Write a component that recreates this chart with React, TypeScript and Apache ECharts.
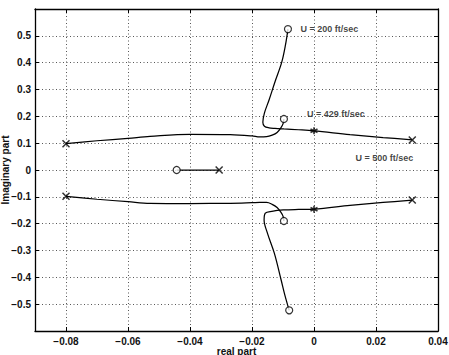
import React, { useEffect, useRef } from "react";
import * as echarts from "echarts";

// Root-locus branches, [real, imag]
const upperBranchA: number[][] = [
  [-0.0084, 0.525], [-0.0092, 0.466], [-0.0104, 0.402], [-0.0126, 0.328],
  [-0.0145, 0.261], [-0.016, 0.212], [-0.0165, 0.178], [-0.016, 0.163],
  [-0.0145, 0.157], [-0.0126, 0.155], [-0.0097, 0.153], [-0.005, 0.150],
  [0, 0.146], [0.0116, 0.132], [0.0223, 0.121], [0.0317, 0.112],
];
const upperBranchB: number[][] = [
  [-0.0097, 0.19], [-0.01, 0.172], [-0.0107, 0.157], [-0.0119, 0.14],
  [-0.0135, 0.130], [-0.0153, 0.124], [-0.0175, 0.123], [-0.02, 0.127],
  [-0.027, 0.132], [-0.04, 0.133], [-0.0529, 0.125], [-0.06, 0.118],
  [-0.07, 0.109], [-0.08, 0.098],
];
const lowerBranchA: number[][] = [
  [-0.008, -0.523], [-0.0094, -0.466], [-0.0106, -0.41], [-0.0128, -0.31],
  [-0.015, -0.236], [-0.0161, -0.186], [-0.0157, -0.161], [-0.0136, -0.154],
  [-0.0099, -0.149], [-0.005, -0.147], [0, -0.146], [0.0116, -0.132],
  [0.0223, -0.121], [0.0317, -0.112],
];
const lowerBranchB: number[][] = [
  [-0.0097, -0.19], [-0.01, -0.172], [-0.0107, -0.157], [-0.0119, -0.14],
  [-0.0135, -0.128], [-0.0153, -0.121], [-0.0175, -0.121], [-0.02, -0.122],
  [-0.027, -0.124], [-0.04, -0.125], [-0.0529, -0.124], [-0.06, -0.118],
  [-0.07, -0.109], [-0.08, -0.098],
];
const realSegment: number[][] = [[-0.0443, 0], [-0.0306, 0]];

// Markers
const circlePoints: number[][] = [
  [-0.0084, 0.525], [-0.0097, 0.19], [-0.0443, 0], [-0.0097, -0.19], [-0.008, -0.523],
];
const crossPoints: number[][] = [
  [0.0317, 0.112], [-0.08, 0.098], [-0.0306, 0], [0.0317, -0.112], [-0.08, -0.098],
];
const starPoints: number[][] = [[0, 0.146], [0, -0.146]];

// Annotations
const annotationTexts = ["U = 200 ft/sec", "U = 429 ft/sec", "U = 500 ft/sec"];
const annotationAnchors: number[][] = [[-0.0045, 0.527], [-0.0024, 0.209], [0.0132, 0.044]];

// Axis ticks
const xTicks = [-0.08, -0.06, -0.04, -0.02, 0, 0.02, 0.04];
const xMin = -0.09, xMax = 0.04;
const yMin = -0.6, yMax = 0.6, yStep = 0.1;

const FONT = "Liberation Sans, Arial, Helvetica, sans-serif";
const fmtNum = (v: number) => {
  const r = Math.round(v * 1000) / 1000;
  if (r === 0) return "0";
  const s = String(Math.abs(r));
  return (r < 0 ? "\u2212" : "") + s;
};

export default function App() {
  const ref = useRef<HTMLDivElement>(null);
  useEffect(() => {
    if (!ref.current) return;
    const chart = echarts.init(ref.current, undefined, { renderer: "svg" });
    const lineStyle = { color: "#000", width: 1.25 };
    const curve = (data: number[][]) => ({
      type: "line",
      data,
      smooth: 0.35,
      symbol: "none",
      lineStyle,
      silent: true,
      z: 3,
    });
    const axisLine = { show: true, onZero: false, lineStyle: { color: "#000", width: 1.3 } };
    const tickStyle = { show: true, inside: true, length: 4, lineStyle: { color: "#000", width: 1 } };
    const splitLine = { show: true, lineStyle: { color: "#444", type: [1, 2.5], width: 0.9 } };
    const textBase = { color: "#111", fontFamily: FONT, fontWeight: "bold" as const };
    const labelStyle = { ...textBase, fontSize: 10 };
    chart.setOption({
      animation: false,
      backgroundColor: "#fff",
      grid: { left: 35, top: 9, right: 11, bottom: 24, containLabel: false, outerBoundsMode: "none" },
      xAxis: [
        {
          type: "value", position: "bottom", min: xMin, max: xMax,
          axisLine, axisTick: { ...tickStyle, customValues: xTicks },
          axisLabel: { ...labelStyle, margin: 5, customValues: xTicks, formatter: fmtNum },
          splitLine,
          name: "real part", nameLocation: "middle", nameGap: 15, nameMoveOverlap: false,
          nameTextStyle: { ...textBase, fontSize: 10 },
        },
        {
          type: "value", position: "top", min: xMin, max: xMax,
          axisLine, axisTick: { ...tickStyle, customValues: xTicks },
          axisLabel: { show: false }, splitLine: { show: false },
        },
      ],
      yAxis: [
        {
          type: "value", position: "left", min: yMin, max: yMax, interval: yStep,
          axisLine, axisTick: tickStyle,
          axisLabel: {
            ...labelStyle, margin: 4,
            formatter: (v: number) => (Math.abs(v) > 0.55 ? "" : fmtNum(Math.round(v * 10) / 10)),
          },
          splitLine,
          name: "Imaginary part", nameLocation: "middle", nameGap: 25, nameMoveOverlap: false,
          nameTextStyle: { ...textBase, fontSize: 10 },
        },
        {
          type: "value", position: "right", min: yMin, max: yMax, interval: yStep,
          axisLine, axisTick: tickStyle, axisLabel: { show: false }, splitLine: { show: false },
        },
      ],
      series: [
        curve(upperBranchA),
        curve(upperBranchB),
        curve(lowerBranchA),
        curve(lowerBranchB),
        { ...curve(realSegment), smooth: false },
        {
          type: "scatter", data: circlePoints, symbol: "circle", symbolSize: 7,
          itemStyle: { color: "#fff", borderColor: "#000", borderWidth: 1.2 }, z: 5, silent: true,
        },
        {
          type: "scatter", data: crossPoints, symbol: "path://M0,0L10,10M10,0L0,10", symbolSize: 7,
          itemStyle: { color: "none", borderColor: "#000", borderWidth: 1.5 }, z: 5, silent: true,
        },
        {
          type: "scatter", data: starPoints,
          symbol: "path://M5,0L5,10M0.7,2.5L9.3,7.5M0.7,7.5L9.3,2.5", symbolSize: 7,
          itemStyle: { color: "none", borderColor: "#000", borderWidth: 1.6 }, z: 5, silent: true,
        },
        {
          type: "scatter",
          data: annotationAnchors.map((p, i) => ({ value: p, name: annotationTexts[i] })),
          symbolSize: 1, itemStyle: { color: "transparent" }, silent: true, z: 6,
          label: {
            show: true, position: "right", distance: 0, formatter: (p: any) => p.name,
            ...textBase, fontSize: 9,
          },
        },
      ],
    });
    return () => chart.dispose();
  }, []);
  return (
    <div
      ref={ref}
      style={{ position: "fixed", left: 0, top: 0, width: 449, height: 355, background: "#fff" }}
    />
  );
}
